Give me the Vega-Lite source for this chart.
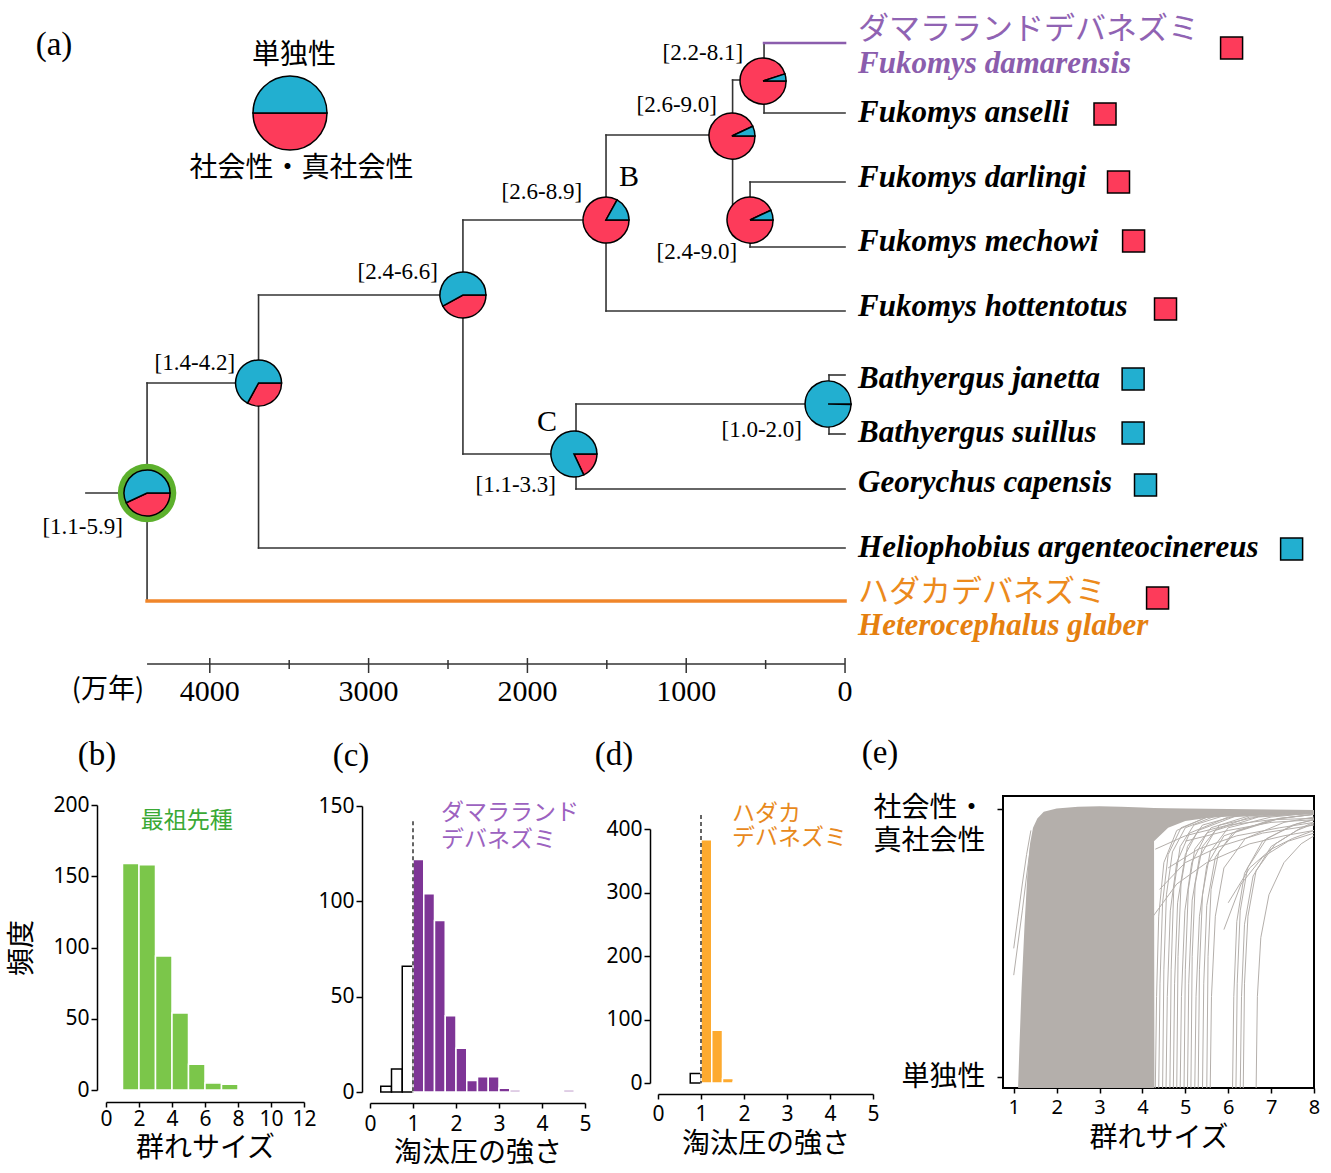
{
"$schema": "https://vega.github.io/schema/vega-lite/v6.json",
"padding": 0,
"background": "white",
"bounds": "flush",
"spacing": 20,
"config": {
  "view": {"stroke": null},
  "axis": {"grid": false, "labelColor": "black", "titleColor": "black", "domainColor": "black", "tickColor": "black", "labelFont": "Noto Sans", "labelFontSize": 20, "titleFont": "Noto Sans CJK JP", "titleFontSize": 28, "titleFontWeight": "normal", "domainWidth": 1.5, "tickWidth": 1.5, "labelOverlap": false, "labelFlush": false}
},
"datasets": {
  "edges": [
    {"t": 4780, "t2": 4395, "y": 49.3, "y2": 49.3, "lineage": "other"},
    {"t": 4395, "t2": 4395, "y": 38.3, "y2": 60.1, "lineage": "other"},
    {"t": 4395, "t2": 0, "y": 60.1, "y2": 60.1, "lineage": "het"},
    {"t": 4395, "t2": 3693, "y": 38.3, "y2": 38.3, "lineage": "other"},
    {"t": 3693, "t2": 3693, "y": 29.5, "y2": 54.8, "lineage": "other"},
    {"t": 3693, "t2": 0, "y": 54.8, "y2": 54.8, "lineage": "other"},
    {"t": 3693, "t2": 2406, "y": 29.5, "y2": 29.5, "lineage": "other"},
    {"t": 2406, "t2": 2406, "y": 22.0, "y2": 45.4, "lineage": "other"},
    {"t": 2406, "t2": 1505, "y": 22.0, "y2": 22.0, "lineage": "other"},
    {"t": 2406, "t2": 1707, "y": 45.4, "y2": 45.4, "lineage": "other"},
    {"t": 1505, "t2": 1505, "y": 13.5, "y2": 31.1, "lineage": "other"},
    {"t": 1505, "t2": 0, "y": 31.1, "y2": 31.1, "lineage": "other"},
    {"t": 1505, "t2": 708, "y": 13.5, "y2": 13.5, "lineage": "other"},
    {"t": 708, "t2": 708, "y": 8.0, "y2": 21.0, "lineage": "other"},
    {"t": 708, "t2": 510, "y": 8.0, "y2": 8.0, "lineage": "other"},
    {"t": 510, "t2": 510, "y": 4.3, "y2": 11.3, "lineage": "other"},
    {"t": 510, "t2": 0, "y": 4.3, "y2": 4.3, "lineage": "dam"},
    {"t": 510, "t2": 0, "y": 11.3, "y2": 11.3, "lineage": "other"},
    {"t": 598, "t2": 598, "y": 18.2, "y2": 24.7, "lineage": "other"},
    {"t": 598, "t2": 0, "y": 18.2, "y2": 18.2, "lineage": "other"},
    {"t": 598, "t2": 0, "y": 24.7, "y2": 24.7, "lineage": "other"},
    {"t": 1694, "t2": 1694, "y": 40.4, "y2": 48.9, "lineage": "other"},
    {"t": 1694, "t2": 107, "y": 40.4, "y2": 40.4, "lineage": "other"},
    {"t": 1694, "t2": 0, "y": 48.9, "y2": 48.9, "lineage": "other"},
    {"t": 101, "t2": 101, "y": 37.5, "y2": 43.4, "lineage": "other"},
    {"t": 101, "t2": 0, "y": 37.5, "y2": 37.5, "lineage": "other"},
    {"t": 101, "t2": 0, "y": 43.4, "y2": 43.4, "lineage": "other"}
  ],
  "axisRules": [
    {"t": 4395, "t2": 0, "y": 66.4, "y2": 66.4},
    {"t": 4000, "t2": 4000, "y": 65.8, "y2": 67.3},
    {"t": 3000, "t2": 3000, "y": 65.8, "y2": 67.3},
    {"t": 2000, "t2": 2000, "y": 65.8, "y2": 67.3},
    {"t": 1000, "t2": 1000, "y": 65.8, "y2": 67.3},
    {"t": 0, "t2": 0, "y": 65.8, "y2": 67.3},
    {"t": 3500, "t2": 3500, "y": 66.0, "y2": 66.9},
    {"t": 2500, "t2": 2500, "y": 66.0, "y2": 66.9},
    {"t": 1500, "t2": 1500, "y": 66.0, "y2": 66.9},
    {"t": 500, "t2": 500, "y": 66.0, "y2": 66.9}
  ],
  "ring": [{"t": 4395, "y": 49.3}],
  "pies": [
    {"node": "root", "t": 4395, "y": 49.3, "state": "social", "p": 0.43, "ord": 0},
    {"node": "root", "t": 4395, "y": 49.3, "state": "solitary", "p": 0.57, "ord": 1},
    {"node": "n2", "t": 3693, "y": 38.3, "state": "social", "p": 0.33, "ord": 0},
    {"node": "n2", "t": 3693, "y": 38.3, "state": "solitary", "p": 0.67, "ord": 1},
    {"node": "n3", "t": 2406, "y": 29.5, "state": "social", "p": 0.42, "ord": 0},
    {"node": "n3", "t": 2406, "y": 29.5, "state": "solitary", "p": 0.58, "ord": 1},
    {"node": "B", "t": 1505, "y": 22.0, "state": "social", "p": 0.83, "ord": 0},
    {"node": "B", "t": 1505, "y": 22.0, "state": "solitary", "p": 0.17, "ord": 1},
    {"node": "n5", "t": 712, "y": 13.6, "state": "social", "p": 0.93, "ord": 0},
    {"node": "n5", "t": 712, "y": 13.6, "state": "solitary", "p": 0.07, "ord": 1},
    {"node": "n6", "t": 516, "y": 8.1, "state": "social", "p": 0.95, "ord": 0},
    {"node": "n6", "t": 516, "y": 8.1, "state": "solitary", "p": 0.05, "ord": 1},
    {"node": "n7", "t": 598, "y": 22.0, "state": "social", "p": 0.93, "ord": 0},
    {"node": "n7", "t": 598, "y": 22.0, "state": "solitary", "p": 0.07, "ord": 1},
    {"node": "C", "t": 1707, "y": 45.4, "state": "social", "p": 0.18, "ord": 0},
    {"node": "C", "t": 1707, "y": 45.4, "state": "solitary", "p": 0.82, "ord": 1},
    {"node": "n8", "t": 107, "y": 40.4, "state": "social", "p": 0.004, "ord": 0},
    {"node": "n8", "t": 107, "y": 40.4, "state": "solitary", "p": 0.996, "ord": 1}
  ],
  "legendPie": [
    {"node": "legend", "t": 3495, "y": 11.3, "state": "social", "p": 0.5, "ord": 0},
    {"node": "legend", "t": 3495, "y": 11.3, "state": "solitary", "p": 0.5, "ord": 1}
  ],
  "squares": [
    {"sp": "Fukomys damarensis", "t": -2434, "y": 4.8, "state": "social"},
    {"sp": "Fukomys anselli", "t": -1637, "y": 11.4, "state": "social"},
    {"sp": "Fukomys darlingi", "t": -1722, "y": 18.2, "state": "social"},
    {"sp": "Fukomys mechowi", "t": -1817, "y": 24.1, "state": "social"},
    {"sp": "Fukomys hottentotus", "t": -2018, "y": 30.9, "state": "social"},
    {"sp": "Bathyergus janetta", "t": -1814, "y": 37.9, "state": "solitary"},
    {"sp": "Bathyergus suillus", "t": -1814, "y": 43.3, "state": "solitary"},
    {"sp": "Georychus capensis", "t": -1892, "y": 48.5, "state": "solitary"},
    {"sp": "Heliophobius argenteocinereus", "t": -2812, "y": 54.9, "state": "solitary"},
    {"sp": "Heterocephalus glaber", "t": -1968, "y": 59.8, "state": "social"}
  ],
  "tipsLatin": [
    {"name": "Fukomys damarensis", "t": -82, "y": 6.4, "grp": "dam"},
    {"name": "Fukomys anselli", "t": -82, "y": 11.3, "grp": "other"},
    {"name": "Fukomys darlingi", "t": -82, "y": 17.8, "grp": "other"},
    {"name": "Fukomys mechowi", "t": -82, "y": 24.2, "grp": "other"},
    {"name": "Fukomys hottentotus", "t": -82, "y": 30.7, "grp": "other"},
    {"name": "Bathyergus janetta", "t": -82, "y": 37.9, "grp": "other"},
    {"name": "Bathyergus suillus", "t": -82, "y": 43.3, "grp": "other"},
    {"name": "Georychus capensis", "t": -82, "y": 48.3, "grp": "other"},
    {"name": "Heliophobius argenteocinereus", "t": -82, "y": 54.8, "grp": "other"},
    {"name": "Heterocephalus glaber", "t": -82, "y": 62.6, "grp": "het"}
  ],
  "tipsJa": [
    {"name": "ダマラランドデバネズミ", "t": -82, "y": 3.0, "grp": "dam"},
    {"name": "ハダカデバネズミ", "t": -82, "y": 59.3, "grp": "het"}
  ],
  "ciLabels": [
    {"label": "[1.1-5.9]", "t": 4547, "y": 52.7},
    {"label": "[1.4-4.2]", "t": 3841, "y": 36.3},
    {"label": "[2.4-6.6]", "t": 2563, "y": 27.2},
    {"label": "[2.6-8.9]", "t": 1656, "y": 19.2},
    {"label": "[2.6-9.0]", "t": 806, "y": 10.5},
    {"label": "[2.2-8.1]", "t": 642, "y": 5.3},
    {"label": "[2.4-9.0]", "t": 680, "y": 25.2},
    {"label": "[1.1-3.3]", "t": 1820, "y": 48.5},
    {"label": "[1.0-2.0]", "t": 271, "y": 43.0}
  ],
  "cladeLabels": [
    {"label": "B", "t": 1360, "y": 17.7},
    {"label": "C", "t": 1877, "y": 42.2}
  ],
  "legendLabels": [
    {"label": "単独性", "t": 3470, "y": 5.6},
    {"label": "社会性・真社会性", "t": 3422, "y": 16.9}
  ],
  "timeLabels": [
    {"label": "4000", "t": 4000, "y": 69.2},
    {"label": "3000", "t": 3000, "y": 69.2},
    {"label": "2000", "t": 2000, "y": 69.2},
    {"label": "1000", "t": 1000, "y": 69.2},
    {"label": "0", "t": 0, "y": 69.2}
  ],
  "unitLabel": [{"label": "(万年)", "t": 4641, "y": 69.0}],
  "panelLabels": [
    {"label": "(a)", "t": 4981, "y": 4.5},
    {"label": "(b)", "t": 4710, "y": 75.5},
    {"label": "(c)", "t": 3111, "y": 75.6},
    {"label": "(d)", "t": 1455, "y": 75.5},
    {"label": "(e)", "t": -220, "y": 75.3}
  ],
  "eMain": [
    {"x": 1.1, "y": -0.05, "lo": -0.05},
    {"x": 1.13, "y": 0.1, "lo": -0.05},
    {"x": 1.18, "y": 0.32, "lo": -0.05},
    {"x": 1.25, "y": 0.56, "lo": -0.05},
    {"x": 1.32, "y": 0.76, "lo": -0.05},
    {"x": 1.38, "y": 0.87, "lo": -0.05},
    {"x": 1.45, "y": 0.93, "lo": -0.05},
    {"x": 1.55, "y": 0.965, "lo": -0.05},
    {"x": 1.7, "y": 0.99, "lo": -0.05},
    {"x": 2.0, "y": 1.002, "lo": -0.05},
    {"x": 2.5, "y": 1.008, "lo": -0.05},
    {"x": 3.0, "y": 1.01, "lo": -0.05},
    {"x": 3.5, "y": 1.008, "lo": -0.05},
    {"x": 4.0, "y": 1.006, "lo": -0.05},
    {"x": 4.27, "y": 1.004, "lo": -0.05},
    {"x": 4.28, "y": -0.05, "lo": -0.05}
  ],
  "eBand": [
    {"x": 4.27, "y": 1.004, "lo": 0.88},
    {"x": 4.6, "y": 1.003, "lo": 0.93},
    {"x": 5.0, "y": 1.002, "lo": 0.955},
    {"x": 5.5, "y": 1.001, "lo": 0.966},
    {"x": 6.0, "y": 1.0, "lo": 0.973},
    {"x": 7.0, "y": 0.998, "lo": 0.978},
    {"x": 8.0, "y": 0.996, "lo": 0.98}
  ],
  "eCurves": [
    {"id": "c1", "x": 4.3, "y": -0.05}, {"id": "c1", "x": 4.33, "y": 0.3}, {"id": "c1", "x": 4.38, "y": 0.6}, {"id": "c1", "x": 4.5, "y": 0.8}, {"id": "c1", "x": 4.8, "y": 0.92}, {"id": "c1", "x": 5.5, "y": 0.97}, {"id": "c1", "x": 8, "y": 0.99},
    {"id": "c2", "x": 4.38, "y": -0.05}, {"id": "c2", "x": 4.41, "y": 0.35}, {"id": "c2", "x": 4.47, "y": 0.65}, {"id": "c2", "x": 4.6, "y": 0.83}, {"id": "c2", "x": 4.9, "y": 0.93}, {"id": "c2", "x": 5.6, "y": 0.975}, {"id": "c2", "x": 8, "y": 0.99},
    {"id": "c3", "x": 4.47, "y": -0.05}, {"id": "c3", "x": 4.5, "y": 0.4}, {"id": "c3", "x": 4.56, "y": 0.68}, {"id": "c3", "x": 4.7, "y": 0.84}, {"id": "c3", "x": 5.0, "y": 0.93}, {"id": "c3", "x": 5.8, "y": 0.98}, {"id": "c3", "x": 8, "y": 0.99},
    {"id": "c4", "x": 4.55, "y": -0.05}, {"id": "c4", "x": 4.58, "y": 0.3}, {"id": "c4", "x": 4.65, "y": 0.62}, {"id": "c4", "x": 4.8, "y": 0.8}, {"id": "c4", "x": 5.1, "y": 0.91}, {"id": "c4", "x": 6.0, "y": 0.97}, {"id": "c4", "x": 8, "y": 0.99},
    {"id": "c5", "x": 4.64, "y": -0.05}, {"id": "c5", "x": 4.67, "y": 0.4}, {"id": "c5", "x": 4.73, "y": 0.7}, {"id": "c5", "x": 4.88, "y": 0.86}, {"id": "c5", "x": 5.2, "y": 0.94}, {"id": "c5", "x": 6.0, "y": 0.98}, {"id": "c5", "x": 8, "y": 0.99},
    {"id": "c6", "x": 4.72, "y": -0.05}, {"id": "c6", "x": 4.75, "y": 0.35}, {"id": "c6", "x": 4.82, "y": 0.65}, {"id": "c6", "x": 5.0, "y": 0.83}, {"id": "c6", "x": 5.3, "y": 0.92}, {"id": "c6", "x": 6.2, "y": 0.975}, {"id": "c6", "x": 8, "y": 0.99},
    {"id": "c7", "x": 4.8, "y": -0.05}, {"id": "c7", "x": 4.83, "y": 0.45}, {"id": "c7", "x": 4.9, "y": 0.72}, {"id": "c7", "x": 5.05, "y": 0.86}, {"id": "c7", "x": 5.4, "y": 0.94}, {"id": "c7", "x": 6.3, "y": 0.98}, {"id": "c7", "x": 8, "y": 0.99},
    {"id": "c8", "x": 4.88, "y": -0.05}, {"id": "c8", "x": 4.91, "y": 0.3}, {"id": "c8", "x": 4.99, "y": 0.62}, {"id": "c8", "x": 5.15, "y": 0.8}, {"id": "c8", "x": 5.5, "y": 0.91}, {"id": "c8", "x": 6.5, "y": 0.97}, {"id": "c8", "x": 8, "y": 0.985},
    {"id": "c9", "x": 4.97, "y": -0.05}, {"id": "c9", "x": 5.0, "y": 0.4}, {"id": "c9", "x": 5.07, "y": 0.7}, {"id": "c9", "x": 5.22, "y": 0.85}, {"id": "c9", "x": 5.6, "y": 0.93}, {"id": "c9", "x": 6.5, "y": 0.975}, {"id": "c9", "x": 8, "y": 0.99},
    {"id": "c10", "x": 5.05, "y": -0.05}, {"id": "c10", "x": 5.08, "y": 0.35}, {"id": "c10", "x": 5.16, "y": 0.66}, {"id": "c10", "x": 5.33, "y": 0.82}, {"id": "c10", "x": 5.7, "y": 0.92}, {"id": "c10", "x": 6.7, "y": 0.97}, {"id": "c10", "x": 8, "y": 0.985},
    {"id": "c11", "x": 5.13, "y": -0.05}, {"id": "c11", "x": 5.16, "y": 0.45}, {"id": "c11", "x": 5.23, "y": 0.72}, {"id": "c11", "x": 5.4, "y": 0.86}, {"id": "c11", "x": 5.8, "y": 0.94}, {"id": "c11", "x": 6.8, "y": 0.975}, {"id": "c11", "x": 8, "y": 0.99},
    {"id": "c12", "x": 5.22, "y": -0.05}, {"id": "c12", "x": 5.25, "y": 0.3}, {"id": "c12", "x": 5.33, "y": 0.6}, {"id": "c12", "x": 5.5, "y": 0.79}, {"id": "c12", "x": 5.9, "y": 0.9}, {"id": "c12", "x": 7.0, "y": 0.96}, {"id": "c12", "x": 8, "y": 0.98},
    {"id": "c13", "x": 5.3, "y": -0.05}, {"id": "c13", "x": 5.33, "y": 0.4}, {"id": "c13", "x": 5.4, "y": 0.68}, {"id": "c13", "x": 5.58, "y": 0.84}, {"id": "c13", "x": 6.0, "y": 0.93}, {"id": "c13", "x": 7.0, "y": 0.97}, {"id": "c13", "x": 8, "y": 0.985},
    {"id": "c14", "x": 5.4, "y": -0.05}, {"id": "c14", "x": 5.43, "y": 0.35}, {"id": "c14", "x": 5.5, "y": 0.64}, {"id": "c14", "x": 5.7, "y": 0.82}, {"id": "c14", "x": 6.1, "y": 0.91}, {"id": "c14", "x": 7.2, "y": 0.965}, {"id": "c14", "x": 8, "y": 0.98},
    {"id": "c15", "x": 5.5, "y": -0.05}, {"id": "c15", "x": 5.53, "y": 0.45}, {"id": "c15", "x": 5.6, "y": 0.7}, {"id": "c15", "x": 5.78, "y": 0.84}, {"id": "c15", "x": 6.2, "y": 0.92}, {"id": "c15", "x": 7.2, "y": 0.965}, {"id": "c15", "x": 8, "y": 0.98},
    {"id": "c16", "x": 5.58, "y": -0.05}, {"id": "c16", "x": 5.61, "y": 0.3}, {"id": "c16", "x": 5.7, "y": 0.6}, {"id": "c16", "x": 5.9, "y": 0.78}, {"id": "c16", "x": 6.4, "y": 0.89}, {"id": "c16", "x": 7.3, "y": 0.95}, {"id": "c16", "x": 8, "y": 0.97},
    {"id": "c17", "x": 6.1, "y": -0.05}, {"id": "c17", "x": 6.13, "y": 0.3}, {"id": "c17", "x": 6.2, "y": 0.58}, {"id": "c17", "x": 6.38, "y": 0.76}, {"id": "c17", "x": 6.8, "y": 0.88}, {"id": "c17", "x": 7.5, "y": 0.94}, {"id": "c17", "x": 8, "y": 0.96},
    {"id": "c18", "x": 6.18, "y": -0.05}, {"id": "c18", "x": 6.21, "y": 0.35}, {"id": "c18", "x": 6.28, "y": 0.62}, {"id": "c18", "x": 6.45, "y": 0.78}, {"id": "c18", "x": 6.9, "y": 0.89}, {"id": "c18", "x": 7.6, "y": 0.945}, {"id": "c18", "x": 8, "y": 0.96},
    {"id": "c19", "x": 6.28, "y": -0.05}, {"id": "c19", "x": 6.31, "y": 0.3}, {"id": "c19", "x": 6.38, "y": 0.57}, {"id": "c19", "x": 6.58, "y": 0.75}, {"id": "c19", "x": 7.0, "y": 0.86}, {"id": "c19", "x": 7.6, "y": 0.92}, {"id": "c19", "x": 8, "y": 0.945},
    {"id": "c20", "x": 6.35, "y": -0.05}, {"id": "c20", "x": 6.38, "y": 0.35}, {"id": "c20", "x": 6.46, "y": 0.6}, {"id": "c20", "x": 6.65, "y": 0.77}, {"id": "c20", "x": 7.1, "y": 0.87}, {"id": "c20", "x": 7.7, "y": 0.93}, {"id": "c20", "x": 8, "y": 0.95},
    {"id": "c21", "x": 6.65, "y": -0.05}, {"id": "c21", "x": 6.68, "y": 0.3}, {"id": "c21", "x": 6.76, "y": 0.52}, {"id": "c21", "x": 6.95, "y": 0.68}, {"id": "c21", "x": 7.3, "y": 0.8}, {"id": "c21", "x": 7.7, "y": 0.87}, {"id": "c21", "x": 8, "y": 0.9},
    {"id": "s1", "x": 4.25, "y": 0.6}, {"id": "s1", "x": 4.8, "y": 0.72}, {"id": "s1", "x": 5.5, "y": 0.8}, {"id": "s1", "x": 6.5, "y": 0.87}, {"id": "s1", "x": 7.3, "y": 0.9}, {"id": "s1", "x": 8, "y": 0.92},
    {"id": "s2", "x": 4.4, "y": 0.7}, {"id": "s2", "x": 5.0, "y": 0.8}, {"id": "s2", "x": 5.8, "y": 0.86}, {"id": "s2", "x": 6.8, "y": 0.91}, {"id": "s2", "x": 8, "y": 0.94},
    {"id": "s3", "x": 4.6, "y": 0.78}, {"id": "s3", "x": 5.3, "y": 0.85}, {"id": "s3", "x": 6.2, "y": 0.9}, {"id": "s3", "x": 7.2, "y": 0.93}, {"id": "s3", "x": 8, "y": 0.95},
    {"id": "s4", "x": 4.3, "y": 0.85}, {"id": "s4", "x": 5.0, "y": 0.9}, {"id": "s4", "x": 6.0, "y": 0.94}, {"id": "s4", "x": 7.0, "y": 0.96}, {"id": "s4", "x": 8, "y": 0.965},
    {"id": "s5", "x": 5.0, "y": 0.88}, {"id": "s5", "x": 6.0, "y": 0.92}, {"id": "s5", "x": 7.0, "y": 0.95}, {"id": "s5", "x": 8, "y": 0.96},
    {"id": "s6", "x": 5.9, "y": 0.55}, {"id": "s6", "x": 6.3, "y": 0.72}, {"id": "s6", "x": 6.8, "y": 0.82}, {"id": "s6", "x": 7.4, "y": 0.88}, {"id": "s6", "x": 8, "y": 0.91},
    {"id": "s7", "x": 6.0, "y": 0.65}, {"id": "s7", "x": 6.5, "y": 0.78}, {"id": "s7", "x": 7.0, "y": 0.85}, {"id": "s7", "x": 7.5, "y": 0.89}, {"id": "s7", "x": 8, "y": 0.92},
    {"id": "l1", "x": 1.0, "y": 0.48}, {"id": "l1", "x": 1.1, "y": 0.6}, {"id": "l1", "x": 1.2, "y": 0.72}, {"id": "l1", "x": 1.3, "y": 0.83}, {"id": "l1", "x": 1.4, "y": 0.92},
    {"id": "l2", "x": 1.0, "y": 0.38}, {"id": "l2", "x": 1.1, "y": 0.5}, {"id": "l2", "x": 1.2, "y": 0.62}, {"id": "l2", "x": 1.3, "y": 0.75}, {"id": "l2", "x": 1.4, "y": 0.87}
  ]
},
"vconcat": [
  {
    "width": 1331,
    "height": 776,
    "encoding": {
      "x": {"field": "t", "type": "quantitative", "scale": {"domain": [-3060, 5321], "reverse": true, "nice": false, "zero": false}, "axis": null},
      "y": {"field": "y", "type": "quantitative", "scale": {"domain": [0, 77.6], "reverse": true, "nice": false, "zero": false}, "axis": null}
    },
    "resolve": {"scale": {"color": "independent", "fill": "independent", "strokeWidth": "independent"}},
    "layer": [
      {"data": {"name": "edges"}, "mark": {"type": "rule", "strokeCap": "square"},
       "encoding": {"x2": {"field": "t2"}, "y2": {"field": "y2"},
         "color": {"field": "lineage", "type": "nominal", "scale": {"domain": ["other", "dam", "het"], "range": ["#333333", "#8b5dad", "#f0862a"]}, "legend": null},
         "strokeWidth": {"field": "lineage", "type": "ordinal", "scale": {"domain": ["other", "dam", "het"], "range": [1.6, 3.5, 3.5]}, "legend": null}}},
      {"data": {"name": "axisRules"}, "mark": {"type": "rule", "color": "#333333", "strokeWidth": 1.5},
       "encoding": {"x2": {"field": "t2"}, "y2": {"field": "y2"}}},
      {"data": {"name": "ring"}, "mark": {"type": "point", "shape": "circle", "filled": true, "color": "#5cb02c", "opacity": 1, "size": 3420}},
      {"data": {"name": "pies"},
       "transform": [{"stack": "p", "groupby": ["node"], "sort": [{"field": "ord", "order": "ascending"}], "as": ["s0", "s1"]}],
       "mark": {"type": "arc", "radius": 23, "stroke": "black", "strokeWidth": 1.5},
       "encoding": {
         "theta": {"field": "s0", "type": "quantitative", "stack": null, "scale": {"domain": [0, 1], "range": [1.5708, 7.854]}},
         "theta2": {"field": "s1"},
         "fill": {"field": "state", "type": "nominal", "scale": {"domain": ["social", "solitary"], "range": ["#fd3b5a", "#22afd0"]}, "legend": null}}},
      {"data": {"name": "legendPie"},
       "transform": [{"stack": "p", "groupby": ["node"], "sort": [{"field": "ord", "order": "ascending"}], "as": ["s0", "s1"]}],
       "mark": {"type": "arc", "radius": 37, "stroke": "black", "strokeWidth": 1.5},
       "encoding": {
         "theta": {"field": "s0", "type": "quantitative", "stack": null, "scale": {"domain": [0, 1], "range": [1.5708, 7.854]}},
         "theta2": {"field": "s1"},
         "fill": {"field": "state", "type": "nominal", "scale": {"domain": ["social", "solitary"], "range": ["#fd3b5a", "#22afd0"]}, "legend": null}}},
      {"data": {"name": "squares"}, "mark": {"type": "point", "shape": "square", "filled": true, "size": 484, "stroke": "black", "strokeWidth": 1.5, "opacity": 1},
       "encoding": {"fill": {"field": "state", "type": "nominal", "scale": {"domain": ["social", "solitary"], "range": ["#fd3b5a", "#22afd0"]}, "legend": null}}},
      {"data": {"name": "tipsLatin"}, "mark": {"type": "text", "align": "left", "baseline": "middle", "font": "Liberation Serif", "fontStyle": "italic", "fontWeight": "bold", "fontSize": 31},
       "encoding": {"text": {"field": "name"}, "color": {"field": "grp", "type": "nominal", "scale": {"domain": ["other", "dam", "het"], "range": ["#000000", "#8b5dad", "#e5800f"]}, "legend": null}}},
      {"data": {"name": "tipsJa"}, "mark": {"type": "text", "align": "left", "baseline": "middle", "font": "Noto Sans CJK JP", "fontSize": 31},
       "encoding": {"text": {"field": "name"}, "color": {"field": "grp", "type": "nominal", "scale": {"domain": ["dam", "het"], "range": ["#9063b3", "#ec8a1c"]}, "legend": null}}},
      {"data": {"name": "ciLabels"}, "mark": {"type": "text", "align": "right", "baseline": "middle", "font": "Liberation Serif", "fontSize": 23, "color": "black"},
       "encoding": {"text": {"field": "label"}}},
      {"data": {"name": "cladeLabels"}, "mark": {"type": "text", "align": "center", "baseline": "middle", "font": "Liberation Serif", "fontSize": 30, "color": "black"},
       "encoding": {"text": {"field": "label"}}},
      {"data": {"name": "legendLabels"}, "mark": {"type": "text", "align": "center", "baseline": "middle", "font": "Noto Sans CJK JP", "fontSize": 28, "color": "black"},
       "encoding": {"text": {"field": "label"}}},
      {"data": {"name": "timeLabels"}, "mark": {"type": "text", "align": "center", "baseline": "middle", "font": "Liberation Serif", "fontSize": 30, "color": "black"},
       "encoding": {"text": {"field": "label"}}},
      {"data": {"name": "unitLabel"}, "mark": {"type": "text", "align": "center", "baseline": "middle", "font": "Noto Sans CJK JP", "fontSize": 27, "color": "black"},
       "encoding": {"text": {"field": "label"}}},
      {"data": {"name": "panelLabels"}, "mark": {"type": "text", "align": "center", "baseline": "middle", "font": "Liberation Serif", "fontSize": 33, "color": "black"},
       "encoding": {"text": {"field": "label"}}}
    ]
  },
  {
    "resolve": {"scale": {"fill": "independent", "stroke": "independent", "color": "independent"}},
    "hconcat": [
      {"width": 106, "height": 10, "data": {"values": []}, "mark": "point"},
      {
        "vconcat": [
          {"width": 198, "height": 9, "data": {"values": []}, "mark": "point"},
          {
            "width": 198, "height": 285,
            "encoding": {
              "x": {"field": "lo", "type": "quantitative", "scale": {"domain": [0, 12], "nice": false, "zero": false},
                    "axis": {"values": [0, 2, 4, 6, 8, 10, 12], "offset": 12, "tickSize": 5, "labelPadding": 1, "title": "群れサイズ", "titlePadding": 5, "labelFontSize": 21}},
              "y": {"field": "n", "type": "quantitative", "scale": {"domain": [0, 200], "nice": false},
                    "axis": {"values": [0, 50, 100, 150, 200], "offset": 9, "tickSize": 6, "labelPadding": 2, "title": "頻度", "titlePadding": 16, "labelFontSize": 21}}
            },
            "layer": [
              {"data": {"values": [
                {"lo": 1, "hi": 2, "n": 159}, {"lo": 2, "hi": 3, "n": 158}, {"lo": 3, "hi": 4, "n": 94},
                {"lo": 4, "hi": 5, "n": 54}, {"lo": 5, "hi": 6, "n": 18}, {"lo": 6, "hi": 7, "n": 5}, {"lo": 7, "hi": 8, "n": 4}]},
               "mark": {"type": "rect", "fill": "#7bc64a", "stroke": "white", "strokeWidth": 1.5},
               "encoding": {"x2": {"field": "hi"}, "y2": {"datum": 0}}},
              {"data": {"values": [{"lo": 4.9, "n": 189, "lab": "最祖先種"}]},
               "mark": {"type": "text", "align": "center", "baseline": "middle", "font": "Noto Sans CJK JP", "fontSize": 23, "color": "#3aa935"},
               "encoding": {"text": {"field": "lab"}}}
            ]
          }
        ],
        "spacing": 0, "bounds": "flush"
      },
      {"width": 264, "height": 10, "data": {"values": []}, "mark": "point"},
      {
        "vconcat": [
          {"width": 215, "height": 10, "data": {"values": []}, "mark": "point"},
          {
            "width": 215, "height": 286,
            "encoding": {
              "x": {"field": "lo", "type": "quantitative", "scale": {"domain": [0, 5], "nice": false, "zero": false},
                    "axis": {"values": [0, 1, 2, 3, 4, 5], "offset": 11, "tickSize": 5, "labelPadding": 5, "title": "淘汰圧の強さ", "titlePadding": 5, "labelFontSize": 21}},
              "y": {"field": "n", "type": "quantitative", "scale": {"domain": [0, 150], "nice": false},
                    "axis": {"values": [0, 50, 100, 150], "offset": 8, "tickSize": 6, "labelPadding": 2, "title": null, "labelFontSize": 21}}
            },
            "layer": [
              {"data": {"values": [
                {"lo": 0.25, "hi": 0.5, "n": 3, "side": "below"}, {"lo": 0.5, "hi": 0.75, "n": 12, "side": "below"},
                {"lo": 0.75, "hi": 1.0, "n": 66, "side": "below"}, {"lo": 1.0, "hi": 1.25, "n": 122, "side": "above"},
                {"lo": 1.25, "hi": 1.5, "n": 104, "side": "above"}, {"lo": 1.5, "hi": 1.75, "n": 90, "side": "above"},
                {"lo": 1.75, "hi": 2.0, "n": 40, "side": "above"}, {"lo": 2.0, "hi": 2.25, "n": 23, "side": "above"},
                {"lo": 2.25, "hi": 2.5, "n": 6, "side": "above"}, {"lo": 2.5, "hi": 2.75, "n": 8, "side": "above"},
                {"lo": 2.75, "hi": 3.0, "n": 8, "side": "above"}, {"lo": 3.0, "hi": 3.25, "n": 2, "side": "above"},
                {"lo": 3.25, "hi": 3.5, "n": 1, "side": "above"}, {"lo": 3.5, "hi": 3.75, "n": 0.4, "side": "above"},
                {"lo": 3.75, "hi": 4.0, "n": 0.4, "side": "above"}, {"lo": 4.0, "hi": 4.25, "n": 0.4, "side": "above"},
                {"lo": 4.5, "hi": 4.75, "n": 1, "side": "above"}]},
               "mark": {"type": "rect", "strokeWidth": 1.5},
               "encoding": {"x2": {"field": "hi"}, "y2": {"datum": 0},
                 "fill": {"field": "side", "type": "nominal", "scale": {"domain": ["below", "above"], "range": ["white", "#7e3596"]}, "legend": null},
                 "stroke": {"field": "side", "type": "nominal", "scale": {"domain": ["below", "above"], "range": ["black", "white"]}, "legend": null}}},
              {"data": {"values": [{"lo": 1, "n": 142}]},
               "mark": {"type": "rule", "color": "#333333", "strokeWidth": 1.5, "strokeDash": [4, 3]},
               "encoding": {"y2": {"datum": 0}}},
              {"data": {"values": [{"lo": 1.65, "n": 152, "lab": "ダマラランド\nデバネズミ"}]},
               "mark": {"type": "text", "align": "left", "baseline": "top", "lineBreak": "\n", "lineHeight": 27, "font": "Noto Sans CJK JP", "fontSize": 23, "color": "#9c62c0"},
               "encoding": {"text": {"field": "lab"}}}
            ]
          }
        ],
        "spacing": 0, "bounds": "flush"
      },
      {"width": 288, "height": 10, "data": {"values": []}, "mark": "point"},
      {
        "vconcat": [
          {"width": 215, "height": 33, "data": {"values": []}, "mark": "point"},
          {
            "width": 215, "height": 254,
            "encoding": {
              "x": {"field": "lo", "type": "quantitative", "scale": {"domain": [0, 5], "nice": false, "zero": false},
                    "axis": {"values": [0, 1, 2, 3, 4, 5], "offset": 11, "tickSize": 5, "labelPadding": 4, "title": "淘汰圧の強さ", "titlePadding": 6, "labelFontSize": 21}},
              "y": {"field": "n", "type": "quantitative", "scale": {"domain": [0, 400], "nice": false},
                    "axis": {"values": [0, 100, 200, 300, 400], "offset": 8, "tickSize": 6, "labelPadding": 2, "title": null, "labelFontSize": 21}}
            },
            "layer": [
              {"data": {"values": [
                {"lo": 0.75, "hi": 1.0, "n": 15, "side": "below"}, {"lo": 1.0, "hi": 1.25, "n": 383, "side": "above"},
                {"lo": 1.25, "hi": 1.5, "n": 83, "side": "above"}, {"lo": 1.5, "hi": 1.75, "n": 7, "side": "above"},
                {"lo": 1.75, "hi": 2.0, "n": 2, "side": "above"}]},
               "mark": {"type": "rect", "strokeWidth": 1.5},
               "encoding": {"x2": {"field": "hi"}, "y2": {"datum": 0},
                 "fill": {"field": "side", "type": "nominal", "scale": {"domain": ["below", "above"], "range": ["white", "#fdaa2f"]}, "legend": null},
                 "stroke": {"field": "side", "type": "nominal", "scale": {"domain": ["below", "above"], "range": ["black", "white"]}, "legend": null}}},
              {"data": {"values": [{"lo": 1, "n": 422}]},
               "mark": {"type": "rule", "color": "#333333", "strokeWidth": 1.5, "strokeDash": [4, 3]},
               "encoding": {"y2": {"datum": 0}}},
              {"data": {"values": [{"lo": 1.72, "n": 441, "lab": "ハダカ\nデバネズミ"}]},
               "mark": {"type": "text", "align": "left", "baseline": "top", "lineBreak": "\n", "lineHeight": 24, "font": "Noto Sans CJK JP", "fontSize": 23, "color": "#e8891c"},
               "encoding": {"text": {"field": "lab"}}}
            ]
          }
        ],
        "spacing": 0, "bounds": "flush"
      },
      {"width": 345, "height": 10, "data": {"values": []}, "mark": "point"},
      {
        "width": 311, "height": 292,
        "view": {"stroke": "black", "strokeWidth": 2},
        "encoding": {
          "x": {"field": "x", "type": "quantitative", "scale": {"domain": [0.75, 8], "nice": false, "zero": false},
                "axis": {"values": [1, 2, 3, 4, 5, 6, 7, 8], "domain": false, "tickSize": 5, "labelPadding": 4, "title": "群れサイズ", "titlePadding": 7}},
          "y": {"field": "y", "type": "quantitative", "scale": {"domain": [-0.041, 1.0485], "nice": false, "zero": false},
                "axis": {"values": [0, 1], "domain": false, "tickSize": 6, "labelPadding": 12, "labelFont": "Noto Sans CJK JP", "labelFontSize": 28, "labelLineHeight": 33,
                         "labelExpr": "datum.value > 0.5 ? ['社会性・', '真社会性'] : '単独性'", "title": null}}
        },
        "layer": [
          {"data": {"name": "eMain"}, "mark": {"type": "area", "color": "#b4afab", "clip": true, "opacity": 1}, "encoding": {"y2": {"field": "lo"}}},
          {"data": {"name": "eBand"}, "mark": {"type": "area", "color": "#b4afab", "clip": true, "opacity": 1}, "encoding": {"y2": {"field": "lo"}}},
          {"data": {"name": "eCurves"}, "mark": {"type": "line", "color": "#b4afab", "strokeWidth": 1, "clip": true}, "encoding": {"detail": {"field": "id", "type": "nominal"}}}
        ]
      }
    ],
    "spacing": 0,
    "bounds": "flush"
  }
]
}
